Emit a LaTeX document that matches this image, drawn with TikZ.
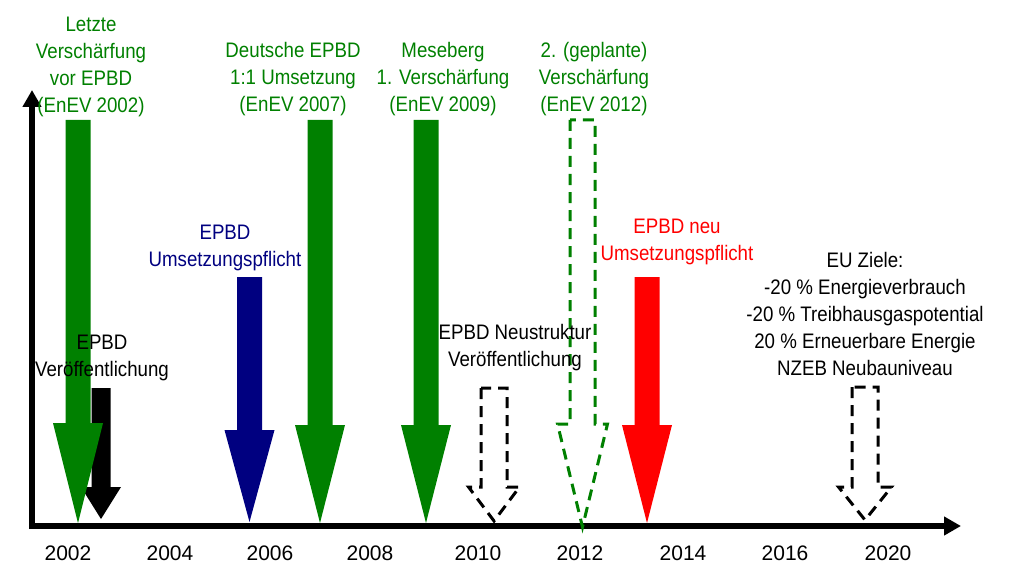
\documentclass[tikz,border=0pt]{standalone}
\usepackage{fontspec}
\setmainfont{Liberation Sans}
\newfontfamily\narrowfont{Liberation Sans}[FakeStretch=0.89]
\usetikzlibrary{arrows.meta}
\definecolor{dgreen}{RGB}{0,128,0}
\definecolor{dnavy}{RGB}{0,0,128}
\definecolor{bred}{RGB}{255,0,0}
% #1 style, #2 cx, #3 shaft half width, #4 top, #5 head base, #6 head half width, #7 tip
\newcommand\bigdownarrow[7]{%
  \path[#1] ({#2-#3},#4) -- ({#2-#3},#5) -- ({#2-#6},#5) -- (#2,#7) -- ({#2+#6},#5) -- ({#2+#3},#5) -- ({#2+#3},#4) -- cycle;}
\begin{document}
\begin{tikzpicture}[x=1pt,y=-1pt,
  axis/.style={line width=6pt,-{Triangle[length=17pt,width=18pt]}},
  solidarr/.style={fill=#1},
  dasharr/.style={draw=#1,line width=3pt,dash pattern=on 11pt off 7pt},
  lbl/.style={font=\narrowfont\fontsize{21}{27}\selectfont,align=center,inner sep=0pt},
  year/.style={font=\fontsize{21}{25}\selectfont,inner sep=0pt}]
\useasboundingbox (0,0) rectangle (1023,575);
% axes
\coordinate (origin) at (32,526);
\coordinate (ytop) at (32,90);
\coordinate (xend) at (961,526);
\draw[axis] (32,529) -- (ytop);
\draw[axis] (29,526) -- (xend);
% arrows
\bigdownarrow{solidarr=black}{101}{9.5}{388}{487}{20}{519}
\bigdownarrow{solidarr=dgreen}{78}{12.5}{120}{423}{25}{523}
\bigdownarrow{solidarr=dnavy}{249.5}{12.5}{277}{430}{25}{522}
\bigdownarrow{solidarr=dgreen}{320}{12.5}{120}{425}{25}{523}
\bigdownarrow{solidarr=dgreen}{426}{12.5}{120}{425}{25}{523}
\bigdownarrow{dasharr=black}{494}{13}{388}{487}{25.5}{521}
\bigdownarrow{dasharr=dgreen}{582.5}{12.5}{120}{424}{25}{527}
\bigdownarrow{solidarr=bred}{647}{12.5}{277}{425}{25}{523}
\bigdownarrow{dasharr=black}{865}{13}{387}{487}{26.5}{520}
% labels
\node[lbl,text=dgreen] (l2002) at (91,67) {Letzte\\Verschärfung\\vor EPBD\\(EnEV 2002)};
\node[lbl,text=dgreen] (l2007) at (293,79.5) {Deutsche EPBD\\1:1 Umsetzung\\(EnEV 2007)};
\node[lbl,text=dgreen] (l2009) at (443,79.5) {Meseberg\\1. Verschärfung\\(EnEV 2009)};
\node[lbl,text=dgreen] (l2012) at (594,79.5) {2. (geplante)\\Verschärfung\\(EnEV 2012)};
\node[lbl,text=dnavy] (lumsetz) at (225,247.5) {EPBD\\Umsetzungspflicht};
\node[lbl,text=bred] (lneu) at (677,242) {EPBD neu\\Umsetzungspflicht};
\node[lbl] (lveroeff) at (102,358) {EPBD\\Veröffentlichung};
\node[lbl] (lneustr) at (515,348) {EPBD Neustruktur\\Veröffentlichung};
\node[lbl] (lziele) at (865,313.5) {EU Ziele:\\-20 \% Energieverbrauch\\-20 \% Treibhausgaspotential\\20 \% Erneuerbare Energie\\NZEB Neubauniveau};
% years
\node[year] (y2002) at (68,553) {2002};
\node[year] (y2004) at (170,553) {2004};
\node[year] (y2006) at (270,553) {2006};
\node[year] (y2008) at (370,553) {2008};
\node[year] (y2010) at (478,553) {2010};
\node[year] (y2012) at (580,553) {2012};
\node[year] (y2014) at (683,553) {2014};
\node[year] (y2016) at (785,553) {2016};
\node[year] (y2020) at (888,553) {2020};
\end{tikzpicture}
\end{document}
